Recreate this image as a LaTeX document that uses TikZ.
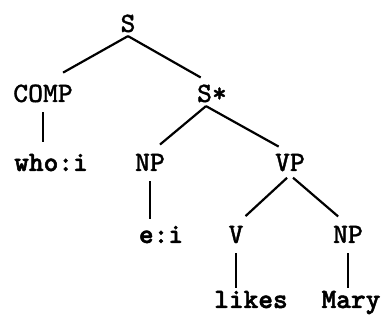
\documentclass[tikz,border=0pt]{standalone}
\usepackage{fontspec}
\usepackage{tikz}
\newfontfamily\catfont{lmmono8-regular}[Extension=.otf, FakeBold=1.2]
\newfontfamily\wordfont{lmmonolt10-bold}[Extension=.otf, FakeBold=1.8]

\begin{document}
\begin{tikzpicture}[x=1pt, y=-1pt, line width=2.2pt,
        cat/.style={anchor=base, inner sep=0pt, text height=17pt, text depth=3pt,
            font=\fontsize{28}{30}\catfont},
        word/.style={cat, font=\fontsize{28}{30}\wordfont},
        branch/.style={shorten >=13pt},
        drop/.style={shorten <=6pt, shorten >=6pt}]
        \useasboundingbox (0,0) rectangle (384,320);

        % Nodes
        \node[cat] (s) at (128,32) {S};
        \node[cat] (comp) at (43,102) {COMP};
        \node[cat] (sstar) at (212,102) {S*};
        \node[word] (who) at (51,171) {who:i};
        \node[cat] (np) at (150,171) {NP};
        \node[cat] (vp) at (290,171) {VP};
        \node[word] (ei) at (161,243) {e:i};
        \node[cat] (v) at (236,243) {V};
        \node[cat] (npobj) at (348,243) {NP};
        \node[word] (likes) at (251,308) {likes};
        \node[word] (mary) at (351,308) {Mary};

        % Edges
        \draw[shorten >=23pt] (s.south) -- (comp.north);
        \draw[branch] (s.south) -- (sstar.north);
        \draw[drop, shorten >=11pt] (comp.south) -- (comp.south |- who.north);
        \draw[branch] ([xshift=-6pt]sstar.south) -- (np.north);
        \draw[branch] ([xshift=-6pt]sstar.south) -- (vp.north);
        \draw[drop] (np.south) -- (np.south |- ei.north);
        \draw[branch, shorten <=4pt] (vp.south) -- (v.north);
        \draw[branch, shorten <=4pt] (vp.south) -- (npobj.north);
        \draw[drop, shorten >=2pt] (v.south) -- (v.south |- likes.north);
        \draw[drop, shorten >=2pt] (npobj.south) -- (npobj.south |- mary.north);
    \end{tikzpicture}
\end{document}
